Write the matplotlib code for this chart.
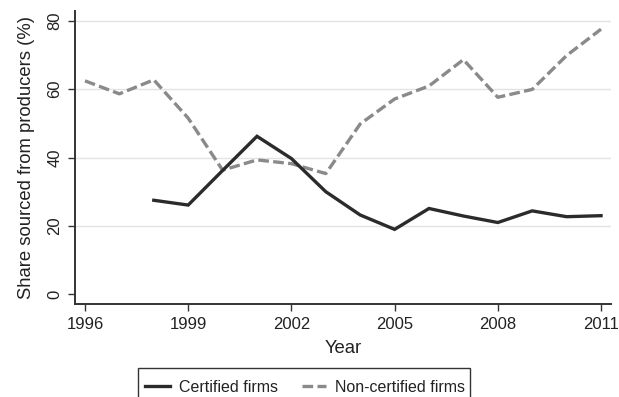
import matplotlib
matplotlib.use("Agg")
import matplotlib.pyplot as plt
from matplotlib.patches import Rectangle

plt.rcParams['font.family'] = ['Liberation Sans', 'DejaVu Sans']

years = list(range(1996, 2012))
certified_years = list(range(1998, 2012))
certified = [27.5, 26.1, 36.2, 46.2, 39.7, 30.0, 23.2, 19.0, 25.1, 22.9, 21.0, 24.4, 22.7, 23.0]
non_certified = [62.4, 58.6, 62.7, 51.5, 36.3, 39.3, 38.2, 35.3, 49.8, 57.1, 60.9, 68.6, 57.6, 59.9, 69.8, 77.5]

x_ticks = [1996, 1999, 2002, 2005, 2008, 2011]
y_ticks = [0, 20, 40, 60, 80]

W, H = 619, 397
fig = plt.figure(figsize=(W / 100, H / 100), dpi=100)
ax = fig.add_axes([75 / W, 1 - 304.3 / H, (611 - 75) / W, (304.3 - 10.7) / H])

for y in y_ticks[1:]:
    ax.axhline(y, color='#e3e3e3', lw=1.0, zorder=0)

ax.plot(certified_years, certified, color='#2b2b2b', lw=2.4,
        solid_joinstyle='miter', label='Certified firms', zorder=3)
ax.plot(years, non_certified, color='#8a8a8a', lw=2.4, dashes=(3.2, 1.3),
        label='Non-certified firms', zorder=2)

ax.set_xlim(1995.71, 2011.29)
ax.set_ylim(-2.9, 82.9)
ax.set_xticks(x_ticks)
ax.set_yticks(y_ticks)
ax.set_yticklabels([str(v) for v in y_ticks], rotation=90, va='center')

for s in ['top', 'right']:
    ax.spines[s].set_visible(False)
for s in ['left', 'bottom']:
    ax.spines[s].set_color('#333333')
    ax.spines[s].set_linewidth(1.4)
ax.tick_params(axis='both', direction='out', length=5, width=1.0, color='#333333',
               labelsize=12, labelcolor='#222222', pad=4)

ax.set_xlabel('Year', fontsize=13.3, color='#222222', labelpad=6)
ax.set_ylabel('Share sourced from producers (%)', fontsize=13.3, color='#222222', labelpad=9)

# legend frame drawn as a plain box that runs off the lower edge
fig.patches.append(Rectangle((138 / W, -0.05), (470 - 138) / W, 0.05 + 1 - 368.3 / H,
                             transform=fig.transFigure, fill=False,
                             edgecolor='#333333', lw=1.0))
leg = fig.legend(loc='center left', bbox_to_anchor=(145 / W, 1 - 387 / H), ncol=2,
                 frameon=False, fontsize=11.5,
                 handlelength=1.55, handletextpad=0.55, columnspacing=1.5,
                 borderpad=0, borderaxespad=0)
for t in leg.get_texts():
    t.set_color('#222222')

fig.savefig('out.png', dpi=100)
